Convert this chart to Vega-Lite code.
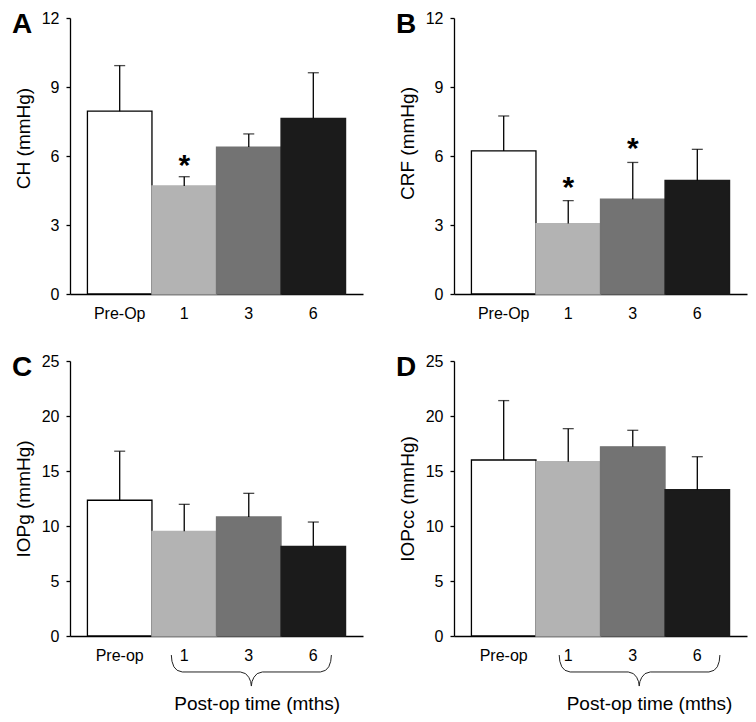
{
  "$schema": "https://vega.github.io/schema/vega-lite/v6.json",
  "padding": {"left": 12, "top": 10, "right": 3, "bottom": 0},
  "columns": 2,
  "align": "each",
  "spacing": {"row": 32, "column": 33},
  "config": {
    "view": {"stroke": null},
    "font": "Liberation Sans",
    "title": {"anchor": "start", "frame": "group", "fontSize": 28, "fontWeight": "bold", "color": "black", "baseline": "alphabetic", "offset": 0, "dx": -58, "dy": 33, "font": "Liberation Sans"},
    "axis": {"domainColor": "black", "domainWidth": 1.3, "tickColor": "black", "tickWidth": 1.3, "labelColor": "black", "titleColor": "black", "labelFont": "Liberation Sans", "titleFont": "Liberation Sans", "labelFontSize": 16, "titleFontSize": 19, "titleFontWeight": "normal", "grid": false},
    "axisX": {"ticks": false, "labelPadding": 11, "labelAngle": 0},
    "axisY": {"tickSize": 4, "labelPadding": 7, "titlePadding": 8}
  },
  "concat": [
    {
      "width": 293, "height": 276,
      "title": {"text": "A"},
      "data": {"values": [
        {"time": "Pre-Op", "mean": 7.95, "upper": 9.93, "sig": ""},
        {"time": "1", "mean": 4.70, "upper": 5.10, "sig": "*"},
        {"time": "3", "mean": 6.39, "upper": 6.96, "sig": ""},
        {"time": "6", "mean": 7.64, "upper": 9.62, "sig": ""}
      ]},
      "layer": [
        {"mark": {"type": "bar", "strokeWidth": 1.3},
         "encoding": {
           "x": {"field": "time", "type": "nominal", "sort": null, "scale": {"domain": ["Pre-Op", "1", "3", "6"], "paddingInner": 0, "paddingOuter": 0.27}, "axis": {"title": null}},
           "y": {"field": "mean", "type": "quantitative", "scale": {"domain": [0, 12], "nice": false}, "axis": {"values": [0, 3, 6, 9, 12], "title": "CH (mmHg)", "titleY": 120}},
           "fill": {"field": "time", "type": "nominal", "scale": {"domain": ["Pre-Op", "1", "3", "6"], "range": ["#ffffff", "#b3b3b3", "#737373", "#1b1b1b"]}, "legend": null},
           "stroke": {"field": "time", "type": "nominal", "scale": {"domain": ["Pre-Op", "1", "3", "6"], "range": ["#000000", "#b3b3b3", "#737373", "#1b1b1b"]}, "legend": null}
         }},
        {"mark": {"type": "rule", "color": "black", "strokeWidth": 1.3},
         "encoding": {"x": {"field": "time", "type": "nominal", "sort": null}, "y": {"field": "mean", "type": "quantitative"}, "y2": {"field": "upper"}}},
        {"mark": {"type": "tick", "color": "black", "size": 11, "thickness": 1.3},
         "encoding": {"x": {"field": "time", "type": "nominal", "sort": null}, "y": {"field": "upper", "type": "quantitative"}}},
        {"mark": {"type": "text", "fontSize": 30, "fontWeight": "bold", "baseline": "alphabetic", "dy": -2, "color": "black"},
         "encoding": {"x": {"field": "time", "type": "nominal", "sort": null}, "y": {"field": "upper", "type": "quantitative"}, "text": {"field": "sig"}}}
      ]
    },
    {
      "width": 293, "height": 276,
      "title": {"text": "B"},
      "data": {"values": [
        {"time": "Pre-Op", "mean": 6.22, "upper": 7.74, "sig": ""},
        {"time": "1", "mean": 3.06, "upper": 4.06, "sig": "*"},
        {"time": "3", "mean": 4.12, "upper": 5.72, "sig": "*"},
        {"time": "6", "mean": 4.94, "upper": 6.29, "sig": ""}
      ]},
      "layer": [
        {"mark": {"type": "bar", "strokeWidth": 1.3},
         "encoding": {
           "x": {"field": "time", "type": "nominal", "sort": null, "scale": {"domain": ["Pre-Op", "1", "3", "6"], "paddingInner": 0, "paddingOuter": 0.27}, "axis": {"title": null}},
           "y": {"field": "mean", "type": "quantitative", "scale": {"domain": [0, 12], "nice": false}, "axis": {"values": [0, 3, 6, 9, 12], "title": "CRF (mmHg)", "titleY": 125}},
           "fill": {"field": "time", "type": "nominal", "scale": {"domain": ["Pre-Op", "1", "3", "6"], "range": ["#ffffff", "#b3b3b3", "#737373", "#1b1b1b"]}, "legend": null},
           "stroke": {"field": "time", "type": "nominal", "scale": {"domain": ["Pre-Op", "1", "3", "6"], "range": ["#000000", "#b3b3b3", "#737373", "#1b1b1b"]}, "legend": null}
         }},
        {"mark": {"type": "rule", "color": "black", "strokeWidth": 1.3},
         "encoding": {"x": {"field": "time", "type": "nominal", "sort": null}, "y": {"field": "mean", "type": "quantitative"}, "y2": {"field": "upper"}}},
        {"mark": {"type": "tick", "color": "black", "size": 11, "thickness": 1.3},
         "encoding": {"x": {"field": "time", "type": "nominal", "sort": null}, "y": {"field": "upper", "type": "quantitative"}}},
        {"mark": {"type": "text", "fontSize": 30, "fontWeight": "bold", "baseline": "alphabetic", "dy": -4, "color": "black"},
         "encoding": {"x": {"field": "time", "type": "nominal", "sort": null}, "y": {"field": "upper", "type": "quantitative"}, "text": {"field": "sig"}}}
      ]
    },
    {
      "width": 293, "height": 275,
      "title": {"text": "C"},
      "resolve": {"scale": {"x": "independent"}},
      "layer": [
        {
          "data": {"values": [
            {"time": "Pre-op", "mean": 12.34, "upper": 16.8},
            {"time": "1", "mean": 9.52, "upper": 11.97},
            {"time": "3", "mean": 10.82, "upper": 12.97},
            {"time": "6", "mean": 8.15, "upper": 10.36}
          ]},
          "layer": [
            {"mark": {"type": "bar", "strokeWidth": 1.3},
             "encoding": {
               "x": {"field": "time", "type": "nominal", "sort": null, "scale": {"domain": ["Pre-op", "1", "3", "6"], "paddingInner": 0, "paddingOuter": 0.27}, "axis": {"title": null}},
               "y": {"field": "mean", "type": "quantitative", "scale": {"domain": [0, 25], "nice": false}, "axis": {"values": [0, 5, 10, 15, 20, 25], "title": "IOPg (mmHg)"}},
               "fill": {"field": "time", "type": "nominal", "scale": {"domain": ["Pre-op", "1", "3", "6"], "range": ["#ffffff", "#b3b3b3", "#737373", "#1b1b1b"]}, "legend": null},
               "stroke": {"field": "time", "type": "nominal", "scale": {"domain": ["Pre-op", "1", "3", "6"], "range": ["#000000", "#b3b3b3", "#737373", "#1b1b1b"]}, "legend": null}
             }},
            {"mark": {"type": "rule", "color": "black", "strokeWidth": 1.3},
             "encoding": {"x": {"field": "time", "type": "nominal", "sort": null}, "y": {"field": "mean", "type": "quantitative"}, "y2": {"field": "upper"}}},
            {"mark": {"type": "tick", "color": "black", "size": 11, "thickness": 1.3},
             "encoding": {"x": {"field": "time", "type": "nominal", "sort": null}, "y": {"field": "upper", "type": "quantitative"}}}
          ]
        },
        {
          "layer": [
            {"data": {"values": [
              {"k": 1, "bx": 1.30, "by": -1.73}, {"k": 2, "bx": 1.31, "by": -2.3}, {"k": 3, "bx": 1.34, "by": -2.8}, {"k": 4, "bx": 1.39, "by": -3.12}, {"k": 5, "bx": 1.47, "by": -3.27},
              {"k": 6, "bx": 2.37, "by": -3.27}, {"k": 7, "bx": 2.45, "by": -3.42}, {"k": 8, "bx": 2.50, "by": -3.75}, {"k": 9, "bx": 2.53, "by": -4.15}, {"k": 10, "bx": 2.54, "by": -4.55},
              {"k": 11, "bx": 2.55, "by": -4.15}, {"k": 12, "bx": 2.58, "by": -3.75}, {"k": 13, "bx": 2.63, "by": -3.42}, {"k": 14, "bx": 2.71, "by": -3.27},
              {"k": 15, "bx": 3.61, "by": -3.27}, {"k": 16, "bx": 3.69, "by": -3.12}, {"k": 17, "bx": 3.74, "by": -2.8}, {"k": 18, "bx": 3.77, "by": -2.3}, {"k": 19, "bx": 3.78, "by": -1.73}
            ]},
             "mark": {"type": "line", "color": "#222222", "strokeWidth": 1},
             "encoding": {
               "x": {"field": "bx", "type": "quantitative", "scale": {"domain": [-0.27, 4.27], "nice": false, "zero": false}, "axis": null},
               "y": {"field": "by", "type": "quantitative", "scale": {"domain": [0, 25], "nice": false}},
               "order": {"field": "k"}
             }},
            {"data": {"values": [{"label": "Post-op time (mths)", "lx": 2.63, "ly": -6.7}]},
             "mark": {"type": "text", "fontSize": 19, "baseline": "alphabetic", "color": "black"},
             "encoding": {
               "x": {"field": "lx", "type": "quantitative"},
               "y": {"field": "ly", "type": "quantitative"},
               "text": {"field": "label"}
             }}
          ]
        }
      ]
    },
    {
      "width": 293, "height": 275,
      "title": {"text": "D"},
      "resolve": {"scale": {"x": "independent"}},
      "layer": [
        {
          "data": {"values": [
            {"time": "Pre-op", "mean": 16.0, "upper": 21.4},
            {"time": "1", "mean": 15.85, "upper": 18.85},
            {"time": "3", "mean": 17.2, "upper": 18.7},
            {"time": "6", "mean": 13.3, "upper": 16.3}
          ]},
          "layer": [
            {"mark": {"type": "bar", "strokeWidth": 1.3},
             "encoding": {
               "x": {"field": "time", "type": "nominal", "sort": null, "scale": {"domain": ["Pre-op", "1", "3", "6"], "paddingInner": 0, "paddingOuter": 0.27}, "axis": {"title": null}},
               "y": {"field": "mean", "type": "quantitative", "scale": {"domain": [0, 25], "nice": false}, "axis": {"values": [0, 5, 10, 15, 20, 25], "title": "IOPcc (mmHg)"}},
               "fill": {"field": "time", "type": "nominal", "scale": {"domain": ["Pre-op", "1", "3", "6"], "range": ["#ffffff", "#b3b3b3", "#737373", "#1b1b1b"]}, "legend": null},
               "stroke": {"field": "time", "type": "nominal", "scale": {"domain": ["Pre-op", "1", "3", "6"], "range": ["#000000", "#b3b3b3", "#737373", "#1b1b1b"]}, "legend": null}
             }},
            {"mark": {"type": "rule", "color": "black", "strokeWidth": 1.3},
             "encoding": {"x": {"field": "time", "type": "nominal", "sort": null}, "y": {"field": "mean", "type": "quantitative"}, "y2": {"field": "upper"}}},
            {"mark": {"type": "tick", "color": "black", "size": 11, "thickness": 1.3},
             "encoding": {"x": {"field": "time", "type": "nominal", "sort": null}, "y": {"field": "upper", "type": "quantitative"}}}
          ]
        },
        {
          "layer": [
            {"data": {"values": [
              {"k": 1, "bx": 1.36, "by": -1.73}, {"k": 2, "bx": 1.37, "by": -2.3}, {"k": 3, "bx": 1.40, "by": -2.8}, {"k": 4, "bx": 1.45, "by": -3.12}, {"k": 5, "bx": 1.53, "by": -3.27},
              {"k": 6, "bx": 2.43, "by": -3.27}, {"k": 7, "bx": 2.51, "by": -3.42}, {"k": 8, "bx": 2.56, "by": -3.75}, {"k": 9, "bx": 2.59, "by": -4.15}, {"k": 10, "bx": 2.60, "by": -4.55},
              {"k": 11, "bx": 2.61, "by": -4.15}, {"k": 12, "bx": 2.64, "by": -3.75}, {"k": 13, "bx": 2.69, "by": -3.42}, {"k": 14, "bx": 2.77, "by": -3.27},
              {"k": 15, "bx": 3.68, "by": -3.27}, {"k": 16, "bx": 3.76, "by": -3.12}, {"k": 17, "bx": 3.81, "by": -2.8}, {"k": 18, "bx": 3.84, "by": -2.3}, {"k": 19, "bx": 3.85, "by": -1.73}
            ]},
             "mark": {"type": "line", "color": "#222222", "strokeWidth": 1},
             "encoding": {
               "x": {"field": "bx", "type": "quantitative", "scale": {"domain": [-0.27, 4.27], "nice": false, "zero": false}, "axis": null},
               "y": {"field": "by", "type": "quantitative", "scale": {"domain": [0, 25], "nice": false}},
               "order": {"field": "k"}
             }},
            {"data": {"values": [{"label": "Post-op time (mths)", "lx": 2.76, "ly": -6.7}]},
             "mark": {"type": "text", "fontSize": 19, "baseline": "alphabetic", "color": "black"},
             "encoding": {
               "x": {"field": "lx", "type": "quantitative"},
               "y": {"field": "ly", "type": "quantitative"},
               "text": {"field": "label"}
             }}
          ]
        }
      ]
    }
  ]
}
